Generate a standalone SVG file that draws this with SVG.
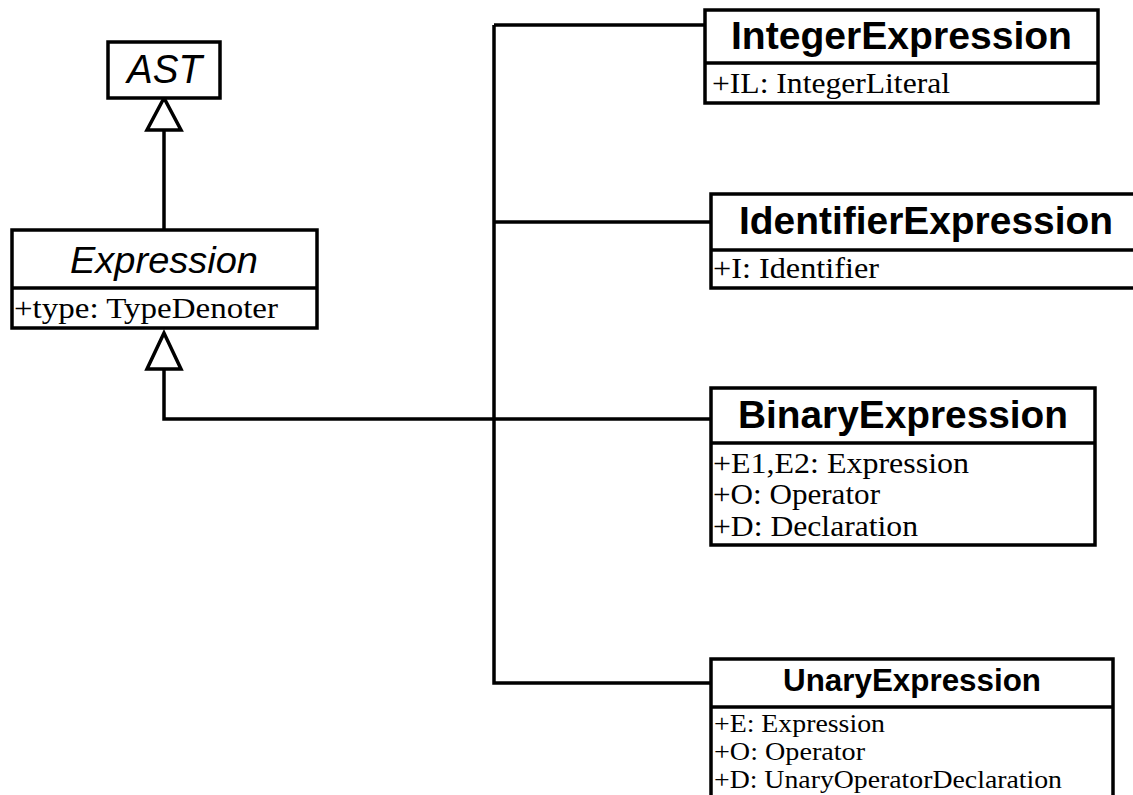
<svg xmlns="http://www.w3.org/2000/svg" width="1133" height="795" viewBox="0 0 1133 795">
<style>
.box{fill:#fff;stroke:#000;stroke-width:3.5}
.div{stroke:#000;stroke-width:3.5}
.ln{fill:none;stroke:#000;stroke-width:3.5}
.tri{fill:#fff;stroke:#000;stroke-width:3.5;stroke-linejoin:miter}
.ti{font-family:"Liberation Sans",Arial,sans-serif;font-style:italic;fill:#000}
.tb{font-family:"Liberation Sans",Arial,sans-serif;font-weight:bold;fill:#000}
.at{font-family:"Liberation Serif","Times New Roman",serif;fill:#000}
</style>
<rect width="1133" height="795" fill="#fff"/>
<g id="connectors">
<path class="ln" d="M164,130 V230"/>
<path class="ln" d="M164,370 V419 H711"/>
<path class="ln" d="M494,25 V683 H711"/>
<path class="ln" d="M494,25 H705"/>
<path class="ln" d="M494,222 H711"/>
<polygon class="tri" points="164,98 147,130 181,130"/>
<polygon class="tri" points="164,333 147,369 181,369"/>
</g>
<g id="AST">
<rect class="box" x="108" y="42" width="112" height="56"/>
<text class="ti" x="127" y="83" font-size="40" textLength="75" lengthAdjust="spacingAndGlyphs">AST</text>
</g>
<g id="Expression">
<rect class="box" x="12" y="230" width="305" height="98"/>
<line class="div" x1="12" y1="288" x2="317" y2="288"/>
<text class="ti" x="70" y="273" font-size="37" textLength="188" lengthAdjust="spacingAndGlyphs">Expression</text>
<text class="at" x="14" y="318" font-size="29" textLength="264" lengthAdjust="spacingAndGlyphs">+type: TypeDenoter</text>
</g>
<g id="IntegerExpression">
<rect class="box" x="705" y="10" width="393" height="93"/>
<line class="div" x1="705" y1="63" x2="1098" y2="63"/>
<text class="tb" x="731" y="49" font-size="39" textLength="341" lengthAdjust="spacingAndGlyphs">IntegerExpression</text>
<text class="at" x="712" y="93" font-size="30" textLength="238" lengthAdjust="spacingAndGlyphs">+IL: IntegerLiteral</text>
</g>
<g id="IdentifierExpression">
<rect class="box" x="711" y="194" width="430" height="94"/>
<line class="div" x1="711" y1="250" x2="1141" y2="250"/>
<text class="tb" x="739" y="234" font-size="39" textLength="374" lengthAdjust="spacingAndGlyphs">IdentifierExpression</text>
<text class="at" x="713" y="278" font-size="30" textLength="166" lengthAdjust="spacingAndGlyphs">+I: Identifier</text>
</g>
<g id="BinaryExpression">
<rect class="box" x="711" y="388" width="384" height="157"/>
<line class="div" x1="711" y1="443" x2="1095" y2="443"/>
<text class="tb" x="738" y="428" font-size="39" textLength="330" lengthAdjust="spacingAndGlyphs">BinaryExpression</text>
<text class="at" x="713" y="473" font-size="29" textLength="256" lengthAdjust="spacingAndGlyphs">+E1,E2: Expression</text>
<text class="at" x="713" y="504" font-size="29" textLength="167" lengthAdjust="spacingAndGlyphs">+O: Operator</text>
<text class="at" x="713" y="536" font-size="29" textLength="205" lengthAdjust="spacingAndGlyphs">+D: Declaration</text>
</g>
<g id="UnaryExpression">
<rect class="box" x="711" y="659" width="402" height="150"/>
<line class="div" x1="711" y1="707" x2="1113" y2="707"/>
<text class="tb" x="783" y="691" font-size="32" textLength="258" lengthAdjust="spacingAndGlyphs">UnaryExpression</text>
<text class="at" x="714" y="732" font-size="26" textLength="171" lengthAdjust="spacingAndGlyphs">+E: Expression</text>
<text class="at" x="714" y="760" font-size="26" textLength="151" lengthAdjust="spacingAndGlyphs">+O: Operator</text>
<text class="at" x="714" y="788" font-size="26" textLength="348" lengthAdjust="spacingAndGlyphs">+D: UnaryOperatorDeclaration</text>
</g>
</svg>
